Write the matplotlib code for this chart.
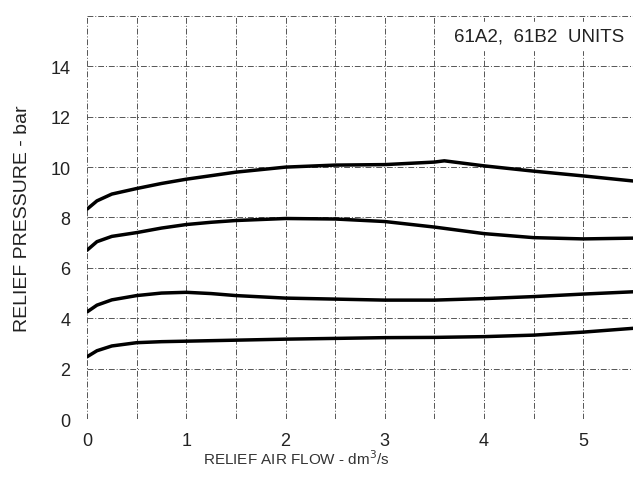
import numpy as np
import matplotlib
matplotlib.use('Agg')
import matplotlib.pyplot as plt

plt.rcParams['font.family'] = ['Liberation Sans', 'DejaVu Sans']

# relief air flow (dm3/s) vs relief pressure (bar), 4 curves
flow_top = [0, 0.1, 0.25, 0.5, 0.75, 1, 1.5, 2, 2.5, 3, 3.5, 3.6, 3.8, 4, 4.5, 5, 5.5]
press_top = [8.33, 8.66, 8.93, 9.15, 9.35, 9.52, 9.8, 10.0, 10.08, 10.1, 10.2, 10.25, 10.15, 10.05, 9.84, 9.65, 9.45]

flow = [0, 0.1, 0.25, 0.5, 0.75, 1, 1.25, 1.5, 2, 2.5, 3, 3.5, 4, 4.5, 5, 5.5]
press_2 = [6.7, 7.04, 7.25, 7.4, 7.58, 7.72, 7.81, 7.88, 7.96, 7.94, 7.84, 7.62, 7.36, 7.2, 7.15, 7.18]
press_3 = [4.25, 4.52, 4.73, 4.9, 5.0, 5.03, 4.98, 4.9, 4.8, 4.76, 4.72, 4.72, 4.78, 4.86, 4.96, 5.05]
press_4 = [2.47, 2.71, 2.9, 3.03, 3.07, 3.09, 3.11, 3.13, 3.17, 3.2, 3.23, 3.24, 3.27, 3.33, 3.45, 3.6]

x_ticks = [0, 1, 2, 3, 4, 5]
y_ticks = [0, 2, 4, 6, 8, 10, 12, 14]

fig = plt.figure(figsize=(6.37, 4.85), dpi=100)
ax = fig.add_axes([0.1366, 0.134, 0.857, 0.831])

ax.plot(flow_top, press_top, color='black', lw=2.5, solid_capstyle='round')
ax.plot(flow, press_2, color='black', lw=2.5, solid_capstyle='round')
ax.plot(flow, press_3, color='black', lw=2.5, solid_capstyle='round')
ax.plot(flow, press_4, color='black', lw=2.5, solid_capstyle='round')

ax.set_xlim(0, 5.5)
ax.set_ylim(0, 16)
ax.set_xticks(x_ticks)
ax.set_yticks(y_ticks)
ax.set_xticks(np.arange(0, 5.51, 0.5), minor=True)
ax.set_yticks([16], minor=True)
ax.tick_params(length=0, labelsize=13, colors='#222222', which='both')
ax.tick_params(axis='x', pad=9)
ax.tick_params(axis='y', pad=12)

# dash-dot grid like the scanned chart paper
ax.grid(True, which='both', color='#555555', lw=0.7, ls=(0, (6, 2, 1, 2)))
for s in ax.spines.values():
    s.set_visible(False)
ax.axvline(5.5, color='#555555', lw=0.7, ls=(0, (6, 2, 1, 2)))

ax.set_xlabel('RELIEF AIR FLOW - dm$^3$/s', fontsize=11, color='#333333')
ax.xaxis.set_label_coords(0.383, -0.073)
ax.set_ylabel('RELIEF PRESSURE - bar', fontsize=14, color='#222222', labelpad=14)

ax.text(0.985, 0.972, '61A2,  61B2  UNITS', transform=ax.transAxes, ha='right', va='top',
        fontsize=13.5, color='#222222', backgroundcolor='white')

fig.savefig('out.png', dpi=100, facecolor='white')
